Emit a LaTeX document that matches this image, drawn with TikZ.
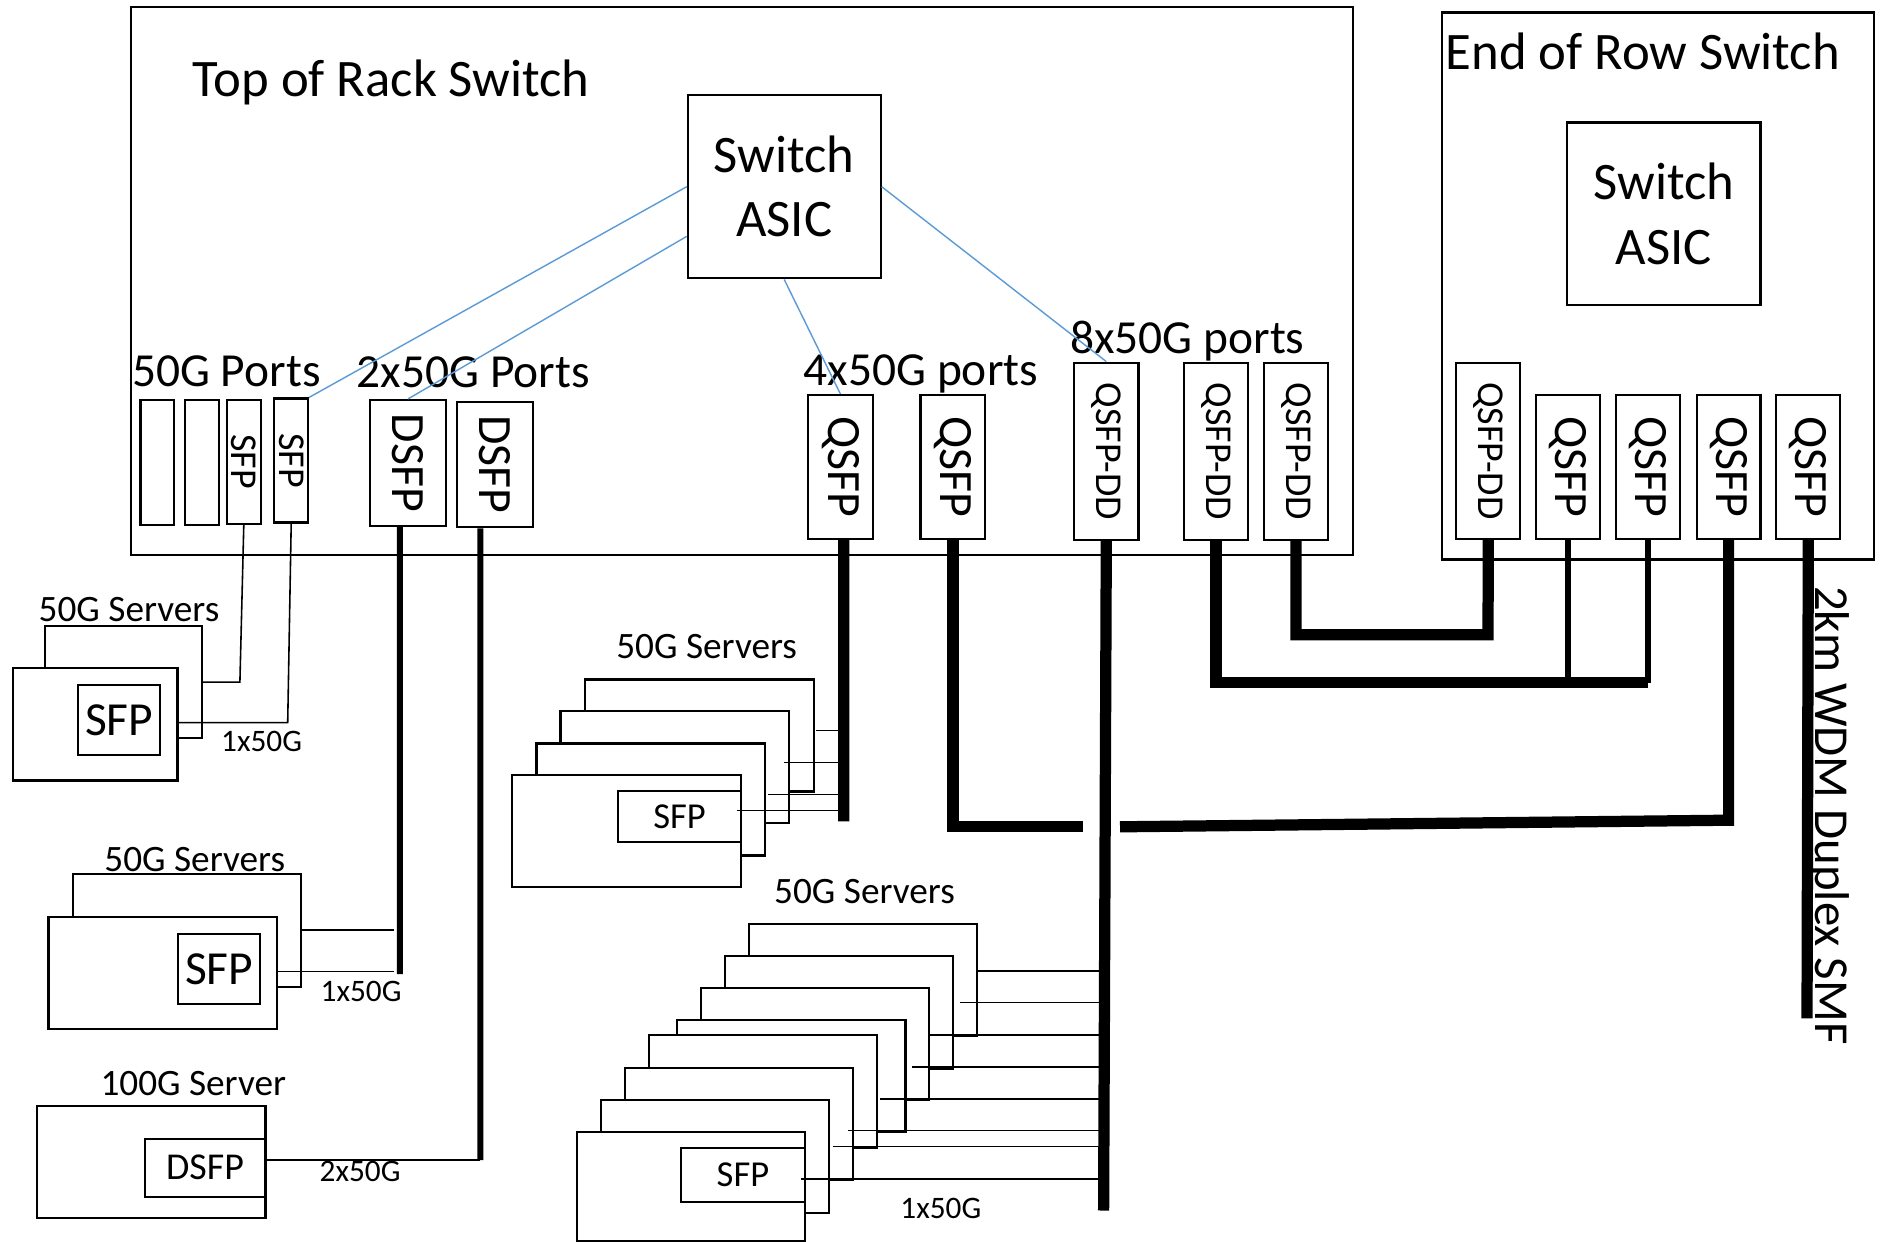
\documentclass[tikz,border=0pt]{standalone}
\usepackage{fontspec}
\setmainfont{Carlito}
\usetikzlibrary{positioning}

\definecolor{linkblue}{RGB}{91,155,213}

\begin{document}
\begin{tikzpicture}[
    x=1mm, y=-1mm,
    box/.style={draw, line width=0.6pt, inner sep=0pt, fill=white},
    port/.style={box},
    srv/.style={box, anchor=north west},
    vlbl/.style={rotate=-90, inner sep=0pt, font=\fontsize{13.6}{16}\selectfont},
    vlbls/.style={rotate=-90, inner sep=0pt, font=\fontsize{10.8}{13}\selectfont},
    big/.style={inner sep=0pt, font=\fontsize{15}{18.3}\selectfont},
    hdr/.style={inner sep=0pt, anchor=base west, font=\fontsize{13.5}{16}\selectfont},
    srvhdr/.style={inner sep=0pt, anchor=base west, font=\fontsize{10.6}{12.7}\selectfont},
    rate/.style={inner sep=0pt, anchor=base west, font=\fontsize{8.9}{10.7}\selectfont},
    wire/.style={line width=0.45pt},
    link/.style={draw=linkblue, line width=0.4pt},
    cable/.style={line width=3.2pt},
    mcable/.style={line width=1.75pt}
]
\useasboundingbox (0,0) rectangle (188.3,124.2);

% Switches
\node[box, anchor=north west, minimum width=122.25mm, minimum height=54.76mm] (tor) at (12.97,0.60) {};
\node[box, anchor=north west, minimum width=43.15mm, minimum height=54.69mm] (eor) at (144.10,1.15) {};
\node[big, anchor=base west] (torname) at (19.20,9.67) {Top of Rack Switch};
\node[big, anchor=base west] (eorname) at (144.50,6.93) {End of Row Switch};
\node[box, big, align=center, minimum width=19.28mm, minimum height=18.34mm] (asic) at (78.42,18.67) {Switch\\ASIC};
\node[box, big, align=center, minimum width=19.33mm, minimum height=18.25mm] (asicE) at (166.38,21.38) {Switch\\ASIC};

% Ports, top of rack
\node[port, minimum width=3.36mm, minimum height=12.5mm] (pA) at (15.73,46.28) {};
\node[port, minimum width=3.36mm, minimum height=12.5mm] (pB) at (20.18,46.28) {};
\node[port, minimum width=3.36mm, minimum height=12.4mm, label={[vlbls]center:SFP}] (sfpA) at (24.38,46.18) {};
\node[port, minimum width=3.36mm, minimum height=12.4mm, label={[vlbls]center:SFP}] (sfpB) at (29.12,46.05) {};
\node[port, minimum width=7.64mm, minimum height=12.57mm, label={[vlbl]center:DSFP}] (dsfpA) at (40.81,46.28) {};
\node[port, minimum width=7.64mm, minimum height=12.57mm, label={[vlbl]center:DSFP}] (dsfpB) at (49.51,46.45) {};
\node[port, minimum width=6.48mm, minimum height=14.41mm, label={[vlbl]center:QSFP}] (qA) at (84.04,46.71) {};
\node[port, minimum width=6.48mm, minimum height=14.41mm, label={[vlbl]center:QSFP}] (qB) at (95.29,46.71) {};
\node[port, minimum width=6.43mm, minimum height=17.73mm, label={[vlbls]center:QSFP-DD}] (ddA) at (110.63,45.13) {};
\node[port, minimum width=6.43mm, minimum height=17.73mm, label={[vlbls]center:QSFP-DD}] (ddB) at (121.60,45.13) {};
\node[port, minimum width=6.43mm, minimum height=17.73mm, label={[vlbls]center:QSFP-DD}] (ddC) at (129.60,45.13) {};

% Ports, end of row
\node[port, minimum width=6.38mm, minimum height=17.53mm, label={[vlbls]center:QSFP-DD}] (ddE) at (148.83,45.10) {};
\node[port, minimum width=6.38mm, minimum height=14.4mm, label={[vlbl]center:QSFP}] (qEa) at (156.81,46.66) {};
\node[port, minimum width=6.38mm, minimum height=14.4mm, label={[vlbl]center:QSFP}] (qEb) at (164.83,46.66) {};
\node[port, minimum width=6.38mm, minimum height=14.4mm, label={[vlbl]center:QSFP}] (qEc) at (172.86,46.66) {};
\node[port, minimum width=6.38mm, minimum height=14.4mm, label={[vlbl]center:QSFP}] (qEd) at (180.83,46.66) {};

% Port labels
\node[hdr] (hPa) at (13.15,38.67) {50G Ports};
\node[hdr] (hPb) at (35.60,38.79) {2x50G Ports};
\node[hdr] (hPc) at (80.30,38.50) {4x50G ports};
\node[hdr] (hPd) at (106.95,35.37) {8x50G ports};

% Servers
\node[srvhdr] (hA) at (3.80,62.16) {50G Servers};
\node[srv, minimum width=15.69mm, minimum height=11.15mm] (srvAb) at (4.40,62.51) {};
\node[srv, minimum width=16.49mm, minimum height=11.29mm] (srvAf) at (1.15,66.65) {};
\node[srv, minimum width=8.16mm, minimum height=7.0mm, font=\fontsize{13.5}{16}\selectfont] (sfpAi) at (7.73,68.40) {SFP};
\node[rate] (rA) at (22.05,75.18) {1x50G};

\node[srvhdr] (hB) at (10.37,87.17) {50G Servers};
\node[srv, minimum width=22.81mm, minimum height=11.24mm] (srvBb) at (7.21,87.33) {};
\node[srv, minimum width=22.88mm, minimum height=11.23mm] (srvBf) at (4.74,91.60) {};
\node[srv, minimum width=8.19mm, minimum height=6.95mm, font=\fontsize{13.5}{16}\selectfont] (sfpBi) at (17.71,93.33) {SFP};
\node[rate] (rB) at (32.00,100.16) {1x50G};

\node[srvhdr] (hC) at (9.98,109.50) {100G Server};
\node[srv, minimum width=22.89mm, minimum height=11.25mm] (srvC) at (3.55,110.48) {};
\node[srv, minimum width=12.09mm, minimum height=5.81mm, font=\fontsize{10.8}{13}\selectfont] (dsfpCi) at (14.35,113.76) {DSFP};
\node[rate] (rC) at (31.90,118.17) {2x50G};

\node[srvhdr] (hD) at (61.56,65.81) {50G Servers};
\node[srv, minimum width=22.87mm, minimum height=11.2mm] (srvD1) at (58.40,67.84) {};
\node[srv, minimum width=22.87mm, minimum height=11.2mm] (srvD2) at (55.94,71.00) {};
\node[srv, minimum width=22.87mm, minimum height=11.2mm] (srvD3) at (53.54,74.24) {};
\node[srv, minimum width=22.87mm, minimum height=11.2mm] (srvD4) at (51.12,77.40) {};
\node[srv, minimum width=12.32mm, minimum height=5.07mm, font=\fontsize{10.4}{12.5}\selectfont] (sfpDi) at (61.70,78.99) {SFP};

\node[srvhdr] (hE) at (77.35,90.31) {50G Servers};
\node[srv, minimum width=22.82mm, minimum height=11.24mm] (srvE1) at (74.79,92.26) {};
\node[srv, minimum width=22.82mm, minimum height=11.24mm] (srvE2) at (72.37,95.50) {};
\node[srv, minimum width=22.82mm, minimum height=11.24mm] (srvE3) at (69.96,98.66) {};
\node[srv, minimum width=22.82mm, minimum height=11.24mm] (srvE4) at (67.62,101.89) {};
\node[srv, minimum width=22.82mm, minimum height=11.24mm] (srvE5) at (64.76,103.43) {};
\node[srv, minimum width=22.82mm, minimum height=11.24mm] (srvE6) at (62.39,106.66) {};
\node[srv, minimum width=22.82mm, minimum height=11.24mm] (srvE7) at (59.98,109.91) {};
\node[srv, minimum width=22.82mm, minimum height=10.95mm] (srvE8) at (57.56,113.06) {};
\node[srv, minimum width=12.36mm, minimum height=5.41mm, font=\fontsize{10.4}{12.5}\selectfont] (sfpEi) at (68.01,114.66) {SFP};
\node[rate] (rE) at (89.97,121.83) {1x50G};

\node[vlbl, anchor=base, font=\fontsize{13.9}{16}\selectfont] (smf) at (181.55,81.54) {2km WDM Duplex SMF};

% Cable ends and bends
\coordinate (t1) at (23.99,68.21);
\coordinate (t2) at (28.77,72.27);
\coordinate (c1) at (39.99,97.40);
\coordinate (b1) at (39.40,93.00);
\coordinate (b2) at (39.40,97.16);
\coordinate (c2) at (48.04,116.00);
\coordinate (c3) at (84.38,82.14);
\coordinate (qs1) at (81.60,73.06);
\coordinate (qs2) at (78.44,76.26);
\coordinate (qs3) at (76.80,79.44);
\coordinate (qs4) at (73.66,81.06);
\coordinate (c5) at (110.36,121.05);
\coordinate (e1) at (97.60,97.07);
\coordinate (e2) at (96.04,100.26);
\coordinate (e3) at (92.82,103.51);
\coordinate (e4) at (91.20,106.70);
\coordinate (e5) at (87.99,109.87);
\coordinate (e6) at (84.84,113.06);
\coordinate (e7) at (83.25,114.66);
\coordinate (e8) at (80.08,117.90);
\coordinate (k2) at (108.27,82.68);
\coordinate (k3) at (112.00,82.68);
\coordinate (k4) at (172.85,82.02);
\coordinate (m1) at (164.83,68.28);
\coordinate (m2) at (148.80,63.48);
\coordinate (c6) at (180.70,101.84);

% Server wires
\draw[wire] (sfpA.south) -- (t1) -- (t1 -| srvAb.east);
\draw[wire] (sfpB.south) -- (t2) -- (t2 -| srvAf.east);
\draw[wire] (srvBb.east |- b1) -- (b1);
\draw[wire] (srvBf.east |- b2) -- (b2);
\draw[wire] (dsfpCi.east |- c2) -- (c2);
\draw[wire] (qs1) -- (qs1 -| c3);
\draw[wire] (qs2) -- (qs2 -| c3);
\draw[wire] (qs3) -- (qs3 -| c3);
\draw[wire] (qs4) -- (qs4 -| c3);
\draw[wire] (e1) -- (e1 -| c5);
\draw[wire] (e2) -- (e2 -| c5);
\draw[wire] (e3) -- (e3 -| c5);
\draw[wire] (e4) -- (e4 -| c5);
\draw[wire] (e5) -- (e5 -| c5);
\draw[wire] (e6) -- (e6 -| c5);
\draw[wire] (e7) -- (e7 -| c5);
\draw[wire] (e8) -- (e8 -| c5);

% Cables
\draw[mcable] ([xshift=-0.82mm]dsfpA.south) -- (c1);
\draw[mcable] ([xshift=-1.47mm]dsfpB.south) -- (c2);
\draw[cable] ([xshift=0.34mm]qA.south) -- (c3);
\draw[cable] (qB.south) -- (qB.south |- k2) -- (k2);
\draw[cable] (k3) -- (qEc.south |- k4) -- (qEc.south);
\draw[cable] (ddA.south) -- (c5);
\draw[cable] (ddB.south) -- (ddB.south |- m1) -- (m1);
\draw[mcable] (qEa.south) -- (qEa.south |- m1);
\draw[mcable] (qEb.south) -- (m1);
\draw[cable] (ddC.south) |- (m2) -- (ddE.south);
\draw[cable] (qEd.south) -- (c6);

% Internal links
\draw[link] (asic.west) -- (sfpB.north east);
\draw[link] (asic.207) -- (dsfpA.north);
\draw[link] (asic.south) -- (qA.north);
\draw[link] (asic.east) -- (ddA.north);

\end{tikzpicture}
\end{document}
